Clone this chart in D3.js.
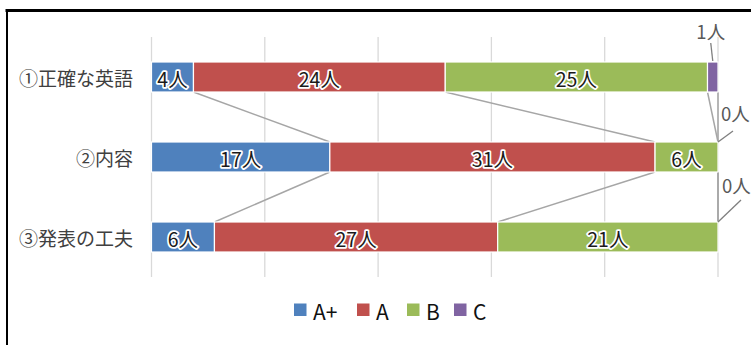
<!DOCTYPE html>
<html><head><meta charset="utf-8">
<script src="https://cdn.jsdelivr.net/npm/d3@7"></script>
<style>
html,body{margin:0;padding:0;background:#fff;}
svg{display:block;}
text{font-family:"Noto Sans CJK JP","Noto Sans",sans-serif;}
</style></head><body>
<svg id="chart" width="751" height="345"></svg>
<script>
// ---- data ----
const categories = ["①正確な英語", "②内容", "③発表の工夫"];
const seriesNames = ["A+", "A", "B", "C"];
const valuesAplus = [4, 17, 6];
const valuesA = [24, 31, 27];
const valuesB = [25, 6, 21];
const valuesC = [1, 0, 0];
const tickValues = [0, 20, 40, 60, 80, 100];
const unit = "人";

const colors = ["#4F81BD", "#C0504D", "#9BBB59", "#8064A2"];
const seriesValues = [valuesAplus, valuesA, valuesB, valuesC];

// layout for labels that sit outside their (tiny) segments
const outsideLabel = {
  "0-3": {tx: -2, ty: -31, anchor: "middle", lx0: 0, ly0: -1, lx1: -2, ly1: -19},
  "1-3": {tx: 3, ty: -29, anchor: "start", lx0: 0, ly0: 0, lx1: 15, ly1: -11},
  "2-3": {tx: 4, ty: -37, anchor: "start", lx0: 0, ly0: 0, lx1: 23, ly1: -22}
};

const svg = d3.select("#chart");

// chart border (top and left visible)
svg.append("line").attr("x1", 5.5).attr("x2", 751).attr("y1", 10.5).attr("y2", 10.5)
  .attr("stroke", "#000").attr("stroke-width", 3);
svg.append("line").attr("x1", 7).attr("x2", 7).attr("y1", 9).attr("y2", 345)
  .attr("stroke", "#000").attr("stroke-width", 2);

const x = d3.scaleLinear().domain([0, 100]).range([151.5, 718]);
const y = d3.scaleBand().domain(categories).range([37, 277])
  .paddingInner(0.625).paddingOuter(0.3125);

// gridlines
svg.append("g").selectAll("line").data(tickValues).join("line")
  .attr("x1", d => x(d)).attr("x2", d => x(d))
  .attr("y1", 37).attr("y2", 277)
  .attr("stroke", "#d9d9d9").attr("stroke-width", 1.3);

// stacked percent data
const rows = categories.map((c, i) => {
  const total = d3.sum(seriesValues, s => s[i]);
  let cum = 0;
  return seriesValues.map((s, j) => {
    const v = s[i];
    const seg = {cat: c, row: i, series: j, value: v, x0: cum / total * 100};
    cum += v;
    seg.x1 = cum / total * 100;
    return seg;
  });
});
const segs = rows.flat();

// series lines between adjacent bars
const seriesLines = [];
for (let i = 0; i < categories.length - 1; i++) {
  for (let j = 0; j < seriesNames.length; j++) {
    seriesLines.push({a: rows[i][j], b: rows[i + 1][j]});
  }
}
svg.append("g").selectAll("line").data(seriesLines).join("line")
  .attr("x1", d => x(d.a.x1)).attr("y1", d => y(d.a.cat) + y.bandwidth())
  .attr("x2", d => x(d.b.x1)).attr("y2", d => y(d.b.cat))
  .attr("stroke", "#a6a6a6").attr("stroke-width", 1.5);

// bars
svg.append("g").selectAll("rect").data(segs.filter(d => d.value > 0)).join("rect")
  .attr("x", d => x(d.x0)).attr("width", d => x(d.x1) - x(d.x0))
  .attr("y", d => y(d.cat)).attr("height", y.bandwidth())
  .attr("fill", d => colors[d.series])
  .attr("stroke", "#fff").attr("stroke-width", 1.2);

// category labels
svg.append("g").selectAll("text").data(categories).join("text")
  .attr("x", 133).attr("y", d => y(d) + y.bandwidth() / 2)
  .attr("text-anchor", "end").attr("dominant-baseline", "central")
  .attr("font-size", 19).attr("fill", "#404040")
  .text(d => d);

// inside labels
const inside = segs.filter(d => !outsideLabel[d.row + "-" + d.series]);
svg.append("g").selectAll("text").data(inside).join("text")
  .attr("x", d => (x(d.x0) + x(d.x1)) / 2)
  .attr("y", d => y(d.cat) + y.bandwidth() / 2 + 1)
  .attr("text-anchor", "middle").attr("dominant-baseline", "central")
  .attr("font-size", 19.5).attr("fill", "#1a1a1a")
  .attr("stroke", "#fff").attr("stroke-width", 3.5).attr("stroke-linejoin", "round")
  .attr("paint-order", "stroke")
  .text(d => d.value + unit);

// outside labels with leader lines
const outside = segs.filter(d => outsideLabel[d.row + "-" + d.series]);
const og = svg.append("g");
outside.forEach(d => {
  const L = outsideLabel[d.row + "-" + d.series];
  const ax = (x(d.x0) + x(d.x1)) / 2;
  const ay = y(d.cat);
  og.append("line")
    .attr("x1", ax + L.lx0).attr("y1", ay + L.ly0)
    .attr("x2", ax + L.lx1).attr("y2", ay + L.ly1)
    .attr("stroke", "#7f7f7f").attr("stroke-width", 1.3);
  og.append("text")
    .attr("x", ax + L.tx).attr("y", ay + L.ty)
    .attr("text-anchor", L.anchor).attr("dominant-baseline", "central")
    .attr("font-size", 18.5).attr("fill", "#595959")
    .text(d.value + unit);
});

// legend
const legendX = [294, 357, 407, 454];
const lg = svg.append("g");
seriesNames.forEach((n, j) => {
  lg.append("rect").attr("x", legendX[j]).attr("y", 303.5).attr("width", 12.5).attr("height", 12.5)
    .attr("fill", colors[j]);
  lg.append("text").attr("x", legendX[j] + 19).attr("y", 310.5)
    .attr("dominant-baseline", "central").attr("font-size", 21).attr("fill", "#111")
    .text(n);
});
</script>
</body></html>
